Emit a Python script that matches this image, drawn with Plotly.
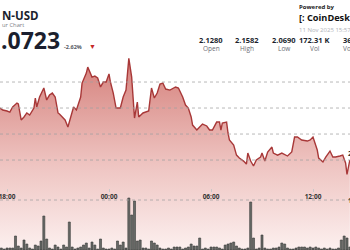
import pandas as pd
import plotly.graph_objects as go

# ---- data ----
price_minutes = [-385,-375,-360,-350,-340,-325,-320,-310,-300,-290,-280,-265,-260,-255,-245,-230,-220,-210,-200,-190,
                 -180,-175,-155,-145,-135,-125,-115,-100,-95,-80,-75,-60,-50,-40,-30,-20,-10,0,5,15,
                 25,40,50,60,70,80,90,100,105,120,140,150,160,170,180,190,200,215,235,245,
                 260,270,280,290,295,310,320,330,345,355,365,380,390,395,400,415,420,425,440,450,
                 460,475,485,490,500,510,520,535,540,550,560,575,580,595,610,630,645,655,665,680,
                 700,710,720,725,735,740,755,765,780,790,800,815,825,835,840,850]
price_values = [2.1200,2.1185,2.1177,2.1169,2.1208,2.1238,2.1231,2.1108,2.1131,2.1162,2.1146,2.1200,2.1277,2.1208,2.1285,2.1354,2.1262,2.1300,2.1315,2.1285,
                2.1162,2.1154,2.1108,2.1054,2.1131,2.1208,2.1185,2.1285,2.1392,2.1469,2.1515,2.1438,2.1446,2.1431,2.1362,2.1400,2.1400,2.1462,2.1400,2.1315,
                2.1200,2.1200,2.1285,2.1338,2.1582,2.1438,2.1123,2.1246,2.1131,2.1162,2.1177,2.1354,2.1277,2.1315,2.1385,2.1392,2.1346,2.1338,2.1362,2.1354,
                2.1285,2.1223,2.1200,2.1131,2.1069,2.1031,2.1054,2.1077,2.1062,2.1031,2.1031,2.1092,2.1092,2.1031,2.1085,2.1092,2.1008,2.0954,2.0915,2.0838,
                2.0815,2.0792,2.0769,2.0854,2.0792,2.0754,2.0800,2.0823,2.0854,2.0792,2.0862,2.0900,2.0854,2.0838,2.0854,2.0831,2.0862,2.0977,2.0977,2.0954,
                2.0946,2.0954,2.0977,2.0946,2.0877,2.0815,2.0785,2.0823,2.0869,2.0823,2.0823,2.0831,2.0838,2.0777,2.0690,2.0800]
volume_k = [0.4,0.4,0.2,0.4,0.4,0.4,2.8,0.8,0.4,2.0,1.2,0.4,0.2,1.0,0.8,1.8,6.8,2.2,0.4,0.2,
            1.0,0.6,0.2,1.0,0.6,5.6,0.6,0.2,0.4,0.6,1.0,1.4,0.4,1.6,1.0,0.2,2.2,0.4,0.2,0.2,
            0.4,0.2,1.8,1.0,1.6,0.4,10.4,7.0,9.8,1.8,2.0,0.4,0.4,0.2,1.8,1.4,1.0,0.4,0.2,0.2,
            0.4,0.2,0.6,0.6,0.6,0.2,0.4,0.6,1.2,0.8,0.8,2.4,0.2,0.4,0.2,0.6,0.6,0.6,0.4,0.2,
            1.0,1.2,1.4,1.6,0.8,0.4,0.2,0.2,0.4,9.6,2.4,0.2,0.4,3.0,0.4,0.2,0.2,0.4,0.4,0.6,
            1.4,1.2,0.4,0.2,0.2,0.4,0.6,0.6,0.6,0.4,0.6,0.4,0.6,0.4,0.2,0.4,0.2,0.4,0.2,0.2,
            0.4,2.0,2.8,2.4,0.6]
volume_start = "2025-11-10 17:30"
tick_times = ["2025-11-10 18:00", "2025-11-11 00:00", "2025-11-11 06:00", "2025-11-11 12:00"]
tick_labels = ["18:00", "00:00", "06:00", "12:00"]
price_grid = [2.08, 2.10, 2.12, 2.14]
volume_grid = [10]
stat_values = ["2.1280", "2.1582", "2.0690", "172.31 K", "362.05 K"]
stat_labels = ["Open", "High", "Low", "Vol", "Vol (USD)"]

price_times = pd.Timestamp("2025-11-11 00:00") + pd.to_timedelta(price_minutes, unit="m")
volume_times = pd.date_range(volume_start, periods=len(volume_k), freq="10min")

FONT = "Open Sans"
W, H = 350, 250

fig = go.Figure()
fig.add_trace(go.Bar(
    x=volume_times, y=volume_k, yaxis="y2",
    marker=dict(color="#666966", line=dict(color="#393b39", width=0.6)),
    showlegend=False,
))
fig.add_trace(go.Scatter(
    x=price_times, y=price_values, mode="lines",
    line=dict(color="#a83838", width=1.4),
    fill="tozeroy",
    fillgradient=dict(type="vertical", start=2.0108, stop=2.16,
                      colorscale=[[0, "#fcf0ef"], [0.45, "#eec3c0"], [1, "#d47e79"]]),
    showlegend=False,
))

shapes = []
for g in price_grid:
    shapes.append(dict(type="line", xref="paper", x0=0, x1=1, yref="y", y0=g, y1=g,
                       line=dict(color="rgba(160,160,160,0.75)", width=1, dash="dot"), layer="above"))
for g in volume_grid:
    shapes.append(dict(type="line", xref="paper", x0=0, x1=1, yref="y2", y0=g, y1=g,
                       line=dict(color="rgba(160,160,160,0.75)", width=1, dash="dot"), layer="above"))

def px(x):
    return x / W

def py(y):
    return 1 - y / H

ann = []
def text(t, x, y, size, color, bold=False, xanchor="left"):
    ann.append(dict(text=f"<b>{t}</b>" if bold else t, x=px(x), y=py(y), xref="paper", yref="paper",
                    xanchor=xanchor, yanchor="middle", showarrow=False,
                    font=dict(family=FONT, size=size, color=color)))

text("N-USD", -0.5, 15, 11.5, "#1b1f2e", bold=True)
text("ur Chart", -0.5, 25.5, 5.8, "#7a7d85")
text(".0723", -1.5, 40, 23, "#1b1f2e", bold=True)
text("-2.62%", 61.5, 47, 5.5, "#555a63", bold=True)
text("▼", 86.5, 47, 7, "#c62828")
centers = [211, 246.5, 283.5, 314.5]
for i, c in enumerate(centers):
    text(stat_values[i], c, 39.5, 7.5, "#1b1f2e", bold=True, xanchor="center")
    text(stat_labels[i], c, 49, 6.5, "#6a6d75", xanchor="center")
text(stat_values[4], 340.5, 39.5, 7.5, "#1b1f2e", bold=True)
text(stat_labels[4], 341, 49, 6.5, "#6a6d75")
text("Powered by", 296.5, 6.5, 6, "#222222", bold=True)
text("[:", 296.5, 18, 9, "#111111", bold=True)
text("CoinDesk Indices", 305, 18, 9.2, "#111111", bold=True)
text("11 Nov 2025 15:57", 296.5, 29.5, 6, "#b0b3b8")
# right-side axis labels (mostly clipped by the frame)
ann.append(dict(text="<b>2.08</b>", x=px(346), y=2.08, xref="paper", yref="y", yshift=7,
                xanchor="left", yanchor="middle", showarrow=False,
                font=dict(family=FONT, size=7, color="#333")))
ann.append(dict(text="<b>10K</b>", x=px(346), y=10, xref="paper", yref="y2",
                xanchor="left", yanchor="middle", showarrow=False,
                font=dict(family=FONT, size=7, color="#333")))

fig.update_layout(
    width=W, height=H, margin=dict(l=0, r=0, t=0, b=0),
    paper_bgcolor="white", plot_bgcolor="white",
    bargap=0.28, showlegend=False,
    shapes=shapes, annotations=ann,
    xaxis=dict(type="date", range=["2025-11-10 17:35:18", "2025-11-11 14:10:35"],
               domain=[0, 1], anchor="free", position=0.25,
               showgrid=False, zeroline=False, showline=False,
               ticks="outside", ticklen=3, tickcolor="#c8c8c8",
               tickvals=tick_times, ticktext=tick_labels, ticklabeloverflow="allow",
               tickfont=dict(family=FONT, size=6.5, color="#333", weight="bold")),
    yaxis=dict(range=[2.0108, 2.2031], domain=[0, 1], showgrid=False, zeroline=False,
               showticklabels=False, showline=False),
    yaxis2=dict(range=[0, 50], overlaying="y", showgrid=False, zeroline=False,
                showticklabels=False, showline=False),
)

fig.write_html("out.html")
